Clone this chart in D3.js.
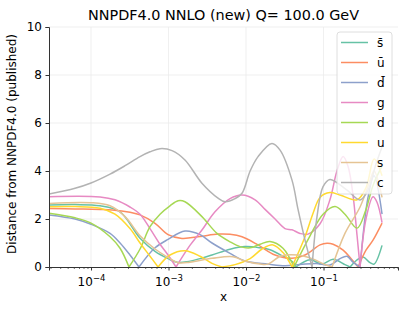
<!DOCTYPE html>
<html>
<head>
<meta charset="utf-8">
<script src="https://cdn.jsdelivr.net/npm/d3@7"></script>
<style>
  body { margin: 0; background: #fff; }
  text { font-family: "DejaVu Sans", sans-serif; }
</style>
</head>
<body>
<div id="chart"></div>
<script>
// distance from published NNPDF4.0, [x, distance]
var names  = ["s\u0304", "u\u0304", "d\u0304", "g", "d", "u", "s", "c"];
var colors = ["#66c2a5", "#fc8d62", "#8da0cb", "#e78ac3", "#a6d854", "#ffd92f", "#e5c494", "#b3b3b3"];

var sbar = [[2.87e-5,2.58],[6.22e-5,2.6],[1.31e-4,2.55],[2.37e-4,2.3],[4.29e-4,1.2],[6.70e-4,0.65],[9.86e-4,0.35],[1.29e-3,0.2],[1.73e-3,0.22],[2.55e-3,0.35],[3.64e-3,0.5],[6.22e-3,0.74],[9.71e-3,0.85],[1.52e-2,0.8],[2.04e-2,0.72],[3.00e-2,0.45],[4.04e-2,0.2],[4.42e-2,0],[6.70e-2,0.3],[9.57e-2,0.12],[0.133,0.32],[0.189,0.1],[0.220,0],[0.271,0.3],[0.324,0.42],[0.398,0.18],[0.449,0.12],[0.569,0.9]];
var ubar = [[2.87e-5,2.44],[6.22e-5,2.42],[1.31e-4,2.4],[1.87e-4,2.38],[3.18e-4,2.28],[4.29e-4,2.17],[6.70e-4,1.82],[9.86e-4,1.35],[1.49e-3,1.19],[2.55e-3,1.27],[4.35e-3,1.37],[6.22e-3,1.36],[8.88e-3,1.26],[1.43e-2,0.92],[2.37e-2,0.5],[3.92e-2,0.36],[5.77e-2,0.5],[9.02e-2,0.92],[0.111,0.99],[0.133,0.95],[0.179,0.7],[0.233,0.3],[0.279,0],[0.353,0.7],[0.435,1.12],[0.569,1.83]];
var dbar = [[2.87e-5,2.17],[6.22e-5,2.0],[1.0e-4,1.78],[1.76e-4,1.4],[2.37e-4,1.0],[3.18e-4,0.5],[4.16e-4,0],[6.70e-4,0.8],[9.86e-4,1.15],[1.63e-3,1.5],[2.55e-3,1.35],[3.64e-3,1.0],[6.22e-3,0.57],[9.71e-3,0.25],[1.92e-2,0.12],[3.18e-2,0.05],[4.97e-2,0.1],[8.00e-2,0.15],[0.121,0.08],[0.163,0.35],[0.201,0.45],[0.240,0.2],[0.296,0],[0.375,2.9],[0.449,3.8],[0.569,2.2]];
var g    = [[2.87e-5,2.93],[1.31e-4,2.92],[2.04e-4,2.8],[3.18e-4,2.5],[4.29e-4,2.2],[5.77e-4,1.6],[7.77e-4,0.95],[9.86e-4,0.5],[1.25e-3,0],[1.89e-3,0.9],[2.70e-3,1.54],[3.98e-3,2.3],[6.22e-3,2.85],[8.88e-3,3.0],[1.31e-2,2.8],[1.76e-2,2.4],[2.37e-2,2.0],[3.18e-2,1.6],[3.92e-2,1.55],[4.97e-2,1.4],[6.31e-2,1.37],[9.02e-2,1.8],[0.121,2.8],[0.149,4.0],[0.179,4.6],[0.207,4.2],[0.240,3.0],[0.271,1.3],[0.296,0],[0.353,2.0],[0.435,2.93],[0.490,2.7],[0.569,1.85]];
var d    = [[2.87e-5,2.24],[6.22e-5,2.05],[1.0e-4,1.83],[1.76e-4,1.26],[2.37e-4,0.78],[3.09e-4,0],[4.29e-4,0.75],[5.77e-4,1.68],[7.77e-4,2.2],[1.045e-3,2.55],[1.33e-3,2.76],[1.63e-3,2.72],[2.70e-3,2.1],[4.22e-3,1.4],[6.22e-3,1.05],[8.37e-3,0.85],[1.13e-2,0.8],[1.52e-2,0.95],[2.04e-2,1.06],[3.00e-2,0.78],[4.16e-2,0],[6.70e-2,1.3],[9.86e-2,2.2],[0.141,2.52],[0.189,2.2],[0.271,1.62],[0.353,2.4],[0.435,3.4],[0.569,4.2]];
var u    = [[2.87e-5,2.51],[6.22e-5,2.52],[1.31e-4,2.45],[2.04e-4,2.2],[3.18e-4,1.6],[4.29e-4,1.0],[5.77e-4,0.45],[7.33e-4,0],[1.045e-3,0.5],[1.63e-3,0.68],[2.55e-3,0.45],[3.64e-3,0.15],[4.90e-3,0],[7.21e-3,0.1],[1.13e-2,0.35],[1.61e-2,0.75],[2.23e-2,0.92],[3.00e-2,0.6],[3.92e-2,0],[5.77e-2,1.26],[7.33e-2,2.24],[9.02e-2,2.9],[0.121,3.1],[0.163,3.0],[0.271,2.8],[0.353,3.3],[0.449,4.5],[0.569,3.8]];
var s    = [[2.87e-5,2.65],[1.0e-4,2.68],[1.76e-4,2.55],[2.75e-4,2.1],[4.29e-4,1.3],[6.70e-4,0.75],[9.86e-4,0.4],[1.33e-3,0.18],[1.89e-3,0.2],[3.64e-3,0.36],[6.80e-3,0.43],[9.71e-3,0.25],[1.52e-2,0.12],[1.92e-2,0.12],[2.83e-2,0.46],[4.69e-2,0.5],[7.11e-2,0.35],[0.1045,0.1],[0.129,0],[0.189,1.4],[0.296,2.5],[0.398,3.6],[0.449,4.0],[0.569,2.9]];
var c    = [[2.87e-5,3.04],[6.22e-5,3.28],[1.0e-4,3.5],[1.76e-4,3.87],[2.75e-4,4.22],[4.29e-4,4.6],[5.77e-4,4.8],[7.77e-4,4.93],[1.11e-3,4.85],[1.63e-3,4.46],[2.70e-3,3.49],[4.35e-3,2.87],[5.36e-3,2.72],[7.21e-3,2.85],[8.88e-3,3.07],[1.13e-2,4.0],[1.43e-2,4.6],[2.16e-2,5.15],[2.75e-2,4.87],[3.92e-2,3.62],[4.69e-2,2.4],[5.77e-2,1.12],[7.11e-2,0],[8.24e-2,2.1],[9.86e-2,3.35],[0.121,3.65],[0.201,3.2],[0.296,2.79],[0.375,3.2],[0.476,4.3],[0.569,5.0]];

var series = [sbar, ubar, dbar, g, d, u, s, c];

var xMajor = [1e-4, 1e-3, 1e-2, 1e-1];
var yTicks = [0, 2, 4, 6, 8, 10];
var xDomain = [2.87e-5, 0.914];

var W = 407, H = 314;
var margin = {top: 27, right: 9, bottom: 47, left: 49},
    width = W - margin.left - margin.right,
    height = H - margin.top - margin.bottom;

var svg = d3.select("#chart").append("svg")
    .attr("width", W)
    .attr("height", H);

var plot = svg.append("g")
    .attr("transform", "translate(" + margin.left + "," + margin.top + ")");

var x = d3.scaleLog().domain(xDomain).range([0, width]);
var y = d3.scaleLinear().domain([0, 10]).range([height, 0]);

// grid
plot.append("g").selectAll("line").data(xMajor).enter().append("line")
    .attr("x1", x).attr("x2", x)
    .attr("y1", 0).attr("y2", height)
    .attr("stroke", "#ebebeb").attr("stroke-width", 0.8);
plot.append("g").selectAll("line").data(yTicks.slice(1)).enter().append("line")
    .attr("x1", 0).attr("x2", width)
    .attr("y1", y).attr("y2", y)
    .attr("stroke", "#ebebeb").attr("stroke-width", 0.8);

// minor ticks on the log axis
var minor = [];
[-5, -4, -3, -2, -1].forEach(function(e) {
  for (var k = 2; k <= 9; k++) {
    var v = k * Math.pow(10, e);
    if (v >= xDomain[0] && v <= xDomain[1]) minor.push(v);
  }
});

// curves: split at the zero points so the |distance| dips stay sharp
var line = d3.line()
    .x(function(p) { return x(p[0]); })
    .y(function(p) { return y(p[1]); })
    .curve(d3.curveCatmullRom.alpha(0.5));

function pieces(pts) {
  var out = [], cur = [];
  pts.forEach(function(p, i) {
    cur.push(p);
    if (p[1] === 0 && i > 0 && i < pts.length - 1) {
      out.push(cur);
      cur = [p];
    }
  });
  out.push(cur);
  return out;
}

svg.append("clipPath").attr("id", "clip")
  .append("rect").attr("width", width).attr("height", height + 1);

var curves = plot.append("g").attr("clip-path", "url(#clip)");
series.forEach(function(pts, i) {
  curves.append("path")
      .attr("d", pieces(pts).map(function(seg) { return line(seg); }).join(""))
      .attr("fill", "none")
      .attr("stroke", colors[i])
      .attr("stroke-width", 1.5)
      .attr("stroke-linejoin", "round");
});

// axes
var xAxis = plot.append("g")
    .attr("transform", "translate(0," + height + ")")
    .call(d3.axisBottom(x).tickValues(xMajor).tickSize(3.5).tickFormat(""));
xAxis.select(".domain").attr("stroke", "#333");
xAxis.selectAll(".tick line").attr("stroke", "#333");
xAxis.selectAll(".tick").append("text")
    .attr("y", 18.5)
    .attr("fill", "#000")
    .attr("font-size", 12)
    .attr("text-anchor", "middle")
    .each(function(v) {
      var t = d3.select(this);
      t.append("tspan").text("10");
      t.append("tspan").attr("dy", -5).attr("font-size", 8.5)
        .text("\u2212" + Math.round(-Math.log10(v)));
    });

plot.append("g")
    .attr("transform", "translate(0," + height + ")")
    .call(d3.axisBottom(x).tickValues(minor).tickSize(2).tickFormat(""))
    .call(function(a) {
      a.select(".domain").remove();
      a.selectAll(".tick line").attr("stroke", "#333").attr("stroke-width", 0.7);
    });

var yAxis = plot.append("g")
    .call(d3.axisLeft(y).tickValues(yTicks).tickSize(3.5).tickPadding(3.5));
yAxis.select(".domain").attr("stroke", "#333");
yAxis.selectAll(".tick line").attr("stroke", "#333");
yAxis.selectAll(".tick text").attr("font-size", 12).attr("fill", "#000")
    .attr("font-family", "DejaVu Sans, sans-serif");

// labels
svg.append("text")
    .attr("x", margin.left + width / 2).attr("y", 20)
    .attr("text-anchor", "middle").attr("font-size", 14.4)
    .text("NNPDF4.0 NNLO (new) Q= 100.0 GeV");

svg.append("text")
    .attr("x", margin.left + width / 2).attr("y", 301)
    .attr("text-anchor", "middle").attr("font-size", 12)
    .text("x");

svg.append("text")
    .attr("transform", "translate(16," + (margin.top + height / 2 - 3) + ")rotate(-90)")
    .attr("text-anchor", "middle").attr("font-size", 12)
    .text("Distance from NNPDF4.0 (published)");

// legend
var legend = svg.append("g").attr("transform", "translate(337,32)");
legend.append("rect")
    .attr("width", 55).attr("height", 162).attr("rx", 3)
    .attr("fill", "#fff").attr("fill-opacity", 0.8)
    .attr("stroke", "#d6d6d6").attr("stroke-width", 0.8);
names.forEach(function(n, i) {
  var row = legend.append("g").attr("transform", "translate(0," + (10.5 + i * 20) + ")");
  row.append("line")
      .attr("x1", 4).attr("x2", 31)
      .attr("stroke", colors[i]).attr("stroke-width", 1.5);
  row.append("text")
      .attr("x", 40).attr("dy", "0.35em")
      .attr("font-size", 12)
      .text(n);
});
</script>
</body>
</html>
